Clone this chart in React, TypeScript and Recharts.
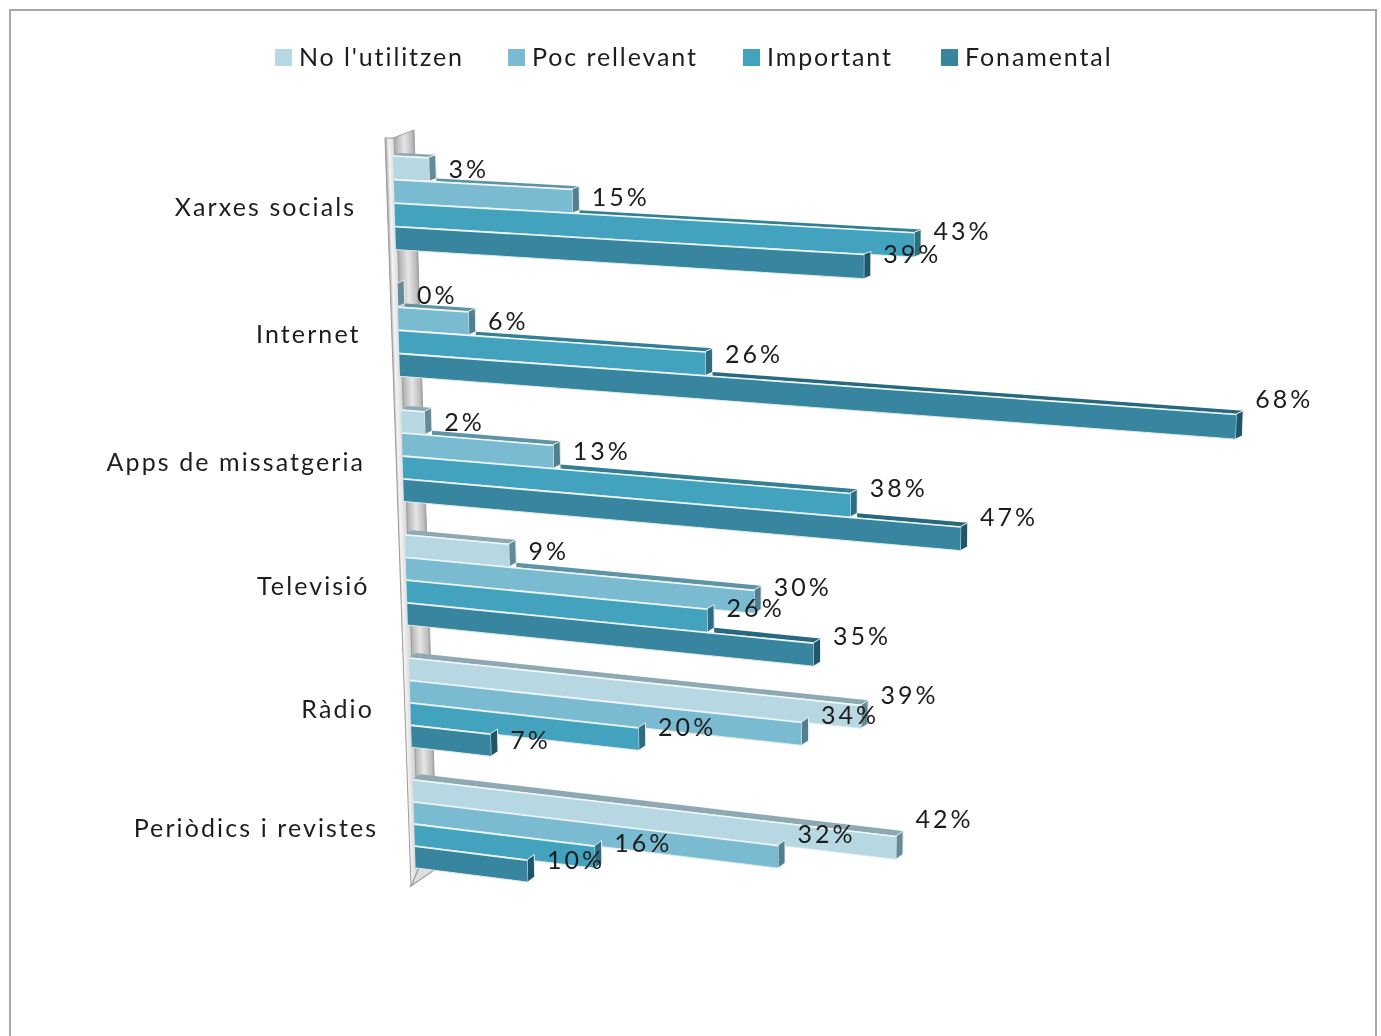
import React from "react";
import { BarChart, Bar, XAxis, YAxis, Legend, LabelList } from "recharts";

const categories = ["Xarxes socials", "Internet", "Apps de missatgeria", "Televisió", "Ràdio", "Periòdics i revistes"];
const noUtilitzen = [3, 0, 2, 9, 39, 42];
const pocRellevant = [15, 6, 13, 30, 34, 32];
const important = [43, 26, 38, 26, 20, 16];
const fonamental = [39, 68, 47, 35, 7, 10];

const data = categories.map((name, i) => ({
  name,
  noUtilitzen: noUtilitzen[i],
  pocRellevant: pocRellevant[i],
  important: important[i],
  fonamental: fonamental[i],
}));

const FONT = "Lato, 'Open Sans', sans-serif";
const TEXT = "#1d1d1d";
const PLOT_LEFT = 400;
const PLOT_W = 840;
const MAX_VALUE = 70;
const FIRST_Y = 155;
const BAND = 125;

// Projects a point of the flat plot onto the tilted 3D floor of the picture.
function warp(xp: number, yp: number) {
  const i = (yp - FIRST_Y) / BAND;
  const y0 = FIRST_Y + i * 128.5 - i * i * 0.75;
  const slope = 0.057 + (y0 - 203) * 0.000105;
  const x0 = 393 + (y0 - FIRST_Y) * 0.0317;
  const k = 0.99 - (y0 - FIRST_Y) * 0.00008;
  const d = xp - PLOT_LEFT;
  const t = d / PLOT_W;
  const w = d * k * (1 + 0.056 * t * t);
  return { X: x0 + w, Y: y0 + w * slope, y0, w, slope };
}

const pts = (a: number[][]) => a.map((p) => p.join(",")).join(" ");

function Bar3D(props: any) {
  const { x, y, width, height, fill, sideFill, topFill, payload, behindKey } = props;
  const a = warp(x, y);
  const b = warp(x + width, y);
  const c = warp(x + width, y + height);
  const d = warp(x, y + height);
  const dx = 7;
  const dy = 2.5 + (a.y0 - FIRST_Y) * 0.004;
  // The top face only shows past the end of the bar standing behind this one.
  const behind = behindKey ? (payload[behindKey] * PLOT_W) / MAX_VALUE : -1;
  const s = warp(x + Math.max(behind, 0), y);
  const showTop = width > 0 && behind < width;
  const sx = behind >= 0 ? s.X + dx : s.X;
  return (
    <g>
      {showTop && (
        <polygon
          points={pts([[sx, s.Y + (behind >= 0 ? 0.5 : 0)], [b.X, b.Y], [b.X + dx, b.Y - dy], [s.X + dx, s.Y - dy]])}
          fill={topFill}
        />
      )}
      <polygon
        points={pts([[b.X, b.Y], [b.X + dx, b.Y - dy], [c.X + dx, c.Y - dy], [c.X, c.Y]])}
        fill={sideFill}
        stroke="#e8eef0"
        strokeWidth={1}
      />
      {width > 0 && (
        <>
          <polygon points={pts([[a.X, a.Y], [b.X, b.Y], [c.X, c.Y], [d.X, d.Y]])} fill={fill} />
          <line x1={a.X} y1={a.Y + 0.5} x2={b.X} y2={b.Y + 0.5} stroke="#f2f8fa" strokeWidth={1.6} />
          <line x1={d.X} y1={d.Y} x2={c.X} y2={c.Y} stroke="#dfeaee" strokeWidth={1} />
        </>
      )}
    </g>
  );
}

function ValueLabel(props: any) {
  const { x, y, width, height, value } = props;
  const r = warp(x + width, y + height / 2);
  const l = warp(x, y + height / 2);
  const lift = Math.max(0, l.y0 - 700) * 0.03;
  return (
    <text
      x={r.X + 19.5}
      y={l.Y + r.w * r.slope * 0.55 + 3 - lift}
      dominantBaseline="middle"
      fontFamily={FONT}
      fontSize={25}
      letterSpacing={3}
      fill={TEXT}
    >
      {value}%
    </text>
  );
}

function CategoryTick(props: any) {
  const { y, payload } = props;
  const p = warp(PLOT_LEFT, y);
  const middleRow = p.y0 > 400 && p.y0 < 720;
  return (
    <text
      x={p.y0 * 0.0355 + 349}
      y={p.y0 + (middleRow ? 9.5 : 7)}
      textAnchor="end"
      dominantBaseline="middle"
      fontFamily={FONT}
      fontSize={25}
      letterSpacing={2.1}
      fill={TEXT}
    >
      {payload.value}
    </text>
  );
}

const legendSquares = [275, 508, 743, 941];
function LegendRow(props: any) {
  return (
    <div style={{ position: "relative", height: 0 }}>
      {(props.payload || []).map((e: any, i: number) => (
        <div key={e.value} style={{ position: "absolute", left: legendSquares[i] - 10, top: 44 }}>
          <span style={{ position: "absolute", left: 0, top: 5, width: 17, height: 17, background: e.color }} />
          <span
            style={{
              position: "absolute",
              left: 24,
              top: -3,
              whiteSpace: "nowrap",
              fontFamily: FONT,
              fontSize: 25,
              letterSpacing: 1.9,
              color: TEXT,
            }}
          >
            {e.value}
          </span>
        </div>
      ))}
    </div>
  );
}

function Wall() {
  return (
    <svg width={1381} height={1036} style={{ position: "absolute", left: -10, top: -10 }}>
      <defs>
        <linearGradient id="panelGrad" gradientUnits="userSpaceOnUse" x1={393} y1={137} x2={415} y2={136.3}>
          <stop offset="0" stopColor="#a8a8a8" />
          <stop offset="0.45" stopColor="#e6e6e6" />
          <stop offset="0.8" stopColor="#bdbdbd" />
          <stop offset="1" stopColor="#8e8e8e" />
        </linearGradient>
        <linearGradient id="stripGrad" gradientUnits="userSpaceOnUse" x1={384} y1={137} x2={394} y2={136.7}>
          <stop offset="0" stopColor="#9c9c9c" />
          <stop offset="0.35" stopColor="#f4f4f4" />
          <stop offset="1" stopColor="#d6d6d6" />
        </linearGradient>
      </defs>
      <polygon points="392,137 413,129 436,866 418,866" fill="url(#panelGrad)" stroke="#a2a2a2" />
      <polygon points="410,885 436,867 418,866" fill="#dedede" stroke="#a2a2a2" strokeWidth={1.5} />
      <polygon points="384,137 393,137 418,866 410,885" fill="url(#stripGrad)" stroke="#9c9c9c" />
    </svg>
  );
}

export default function App() {
  return (
    <div style={{ position: "fixed", left: 0, top: 0, width: 1381, height: 1036, overflow: "hidden", background: "#fff" }}>
      <div style={{ position: "absolute", left: 9, top: 9, width: 1364, height: 1100, border: "2px solid #a8a8a8", filter: "blur(0.5px)" }}>
        <Wall />
        <div style={{ position: "absolute", left: -11, top: -11 }}>
          <BarChart
            width={1381}
            height={1036}
            data={data}
            layout="vertical"
            barSize={23}
            barGap={0}
            margin={{ top: 138.5, bottom: 147.5, left: 100, right: 141 }}
          >
            <XAxis type="number" domain={[0, MAX_VALUE]} hide />
            <YAxis type="category" dataKey="name" width={300} axisLine={false} tickLine={false} tick={<CategoryTick />} interval={0} />
            <Legend content={<LegendRow />} itemSorter={null} verticalAlign="top" wrapperStyle={{ left: 10, top: 0, width: 1381, height: 0 }} />
            <Bar dataKey="noUtilitzen" name="No l'utilitzen" fill="#B7D7E3" isAnimationActive={false}
              shape={<Bar3D sideFill="#668b97" topFill="#8fa9b3" />}>
              <LabelList dataKey="noUtilitzen" content={<ValueLabel />} />
            </Bar>
            <Bar dataKey="pocRellevant" name="Poc rellevant" fill="#7BBBD1" isAnimationActive={false}
              shape={<Bar3D sideFill="#4f7f90" topFill="#5f93a6" behindKey="noUtilitzen" />}>
              <LabelList dataKey="pocRellevant" content={<ValueLabel />} />
            </Bar>
            <Bar dataKey="important" name="Important" fill="#43A3BE" isAnimationActive={false}
              shape={<Bar3D sideFill="#2c6d80" topFill="#357f95" behindKey="pocRellevant" />}>
              <LabelList dataKey="important" content={<ValueLabel />} />
            </Bar>
            <Bar dataKey="fonamental" name="Fonamental" fill="#38859F" isAnimationActive={false}
              shape={<Bar3D sideFill="#1f566a" topFill="#28697f" behindKey="important" />}>
              <LabelList dataKey="fonamental" content={<ValueLabel />} />
            </Bar>
          </BarChart>
        </div>
      </div>
    </div>
  );
}
